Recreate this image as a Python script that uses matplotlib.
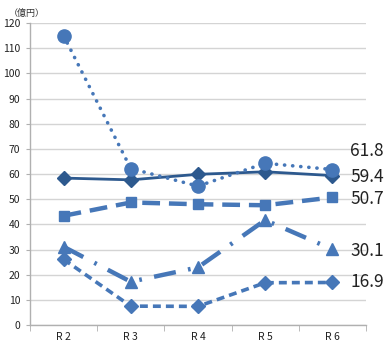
import matplotlib.pyplot as plt
import numpy as np

plt.rcParams['font.family'] = ['Noto Sans CJK JP', 'DejaVu Sans']

# 年度別の金額（億円）
years = ["R 2", "R 3", "R 4", "R 5", "R 6"]
dotted_vals = [115.0, 62.2, 55.2, 64.3, 61.8]
solid_vals = [58.4, 57.7, 59.9, 60.9, 59.4]
square_vals = [43.4, 48.7, 48.0, 47.6, 50.7]
triangle_vals = [31.1, 17.2, 22.9, 41.7, 30.1]
diamond_vals = [26.1, 7.5, 7.4, 16.8, 16.9]

blue = "#4677b8"
dark = "#2d598e"

fig = plt.figure(figsize=(3.92, 3.47), dpi=100)
ax = fig.add_axes([0.0765, 0.0634, 0.857, 0.870])

x = np.arange(len(years))

ax.plot(x, solid_vals, color=dark, lw=2, marker="D", ms=7, zorder=4)
ax.plot(x, square_vals, color=blue, lw=3.2, ls=(0, (4, 2)),
        marker="s", ms=7, zorder=3)
ax.plot(x, triangle_vals, color=blue, lw=3.2,
        ls=(0, (5, 2.8, 0.6, 2.8)), marker="^", ms=8, zorder=3)
ax.plot(x, diamond_vals, color=blue, lw=2.6, ls=(0, (2.2, 1.4)),
        marker="D", ms=7, zorder=3)
ax.plot(x, dotted_vals, color=blue, lw=2.6, ls=(0, (0.05, 2.2)),
        dash_capstyle="round", marker="o", ms=9.5, zorder=5)

# 最終年度の値ラベル
labels = [(dotted_vals, 13), (solid_vals, -1), (square_vals, -1),
          (triangle_vals, -1), (diamond_vals, 0)]
for vals, dy in labels:
    ax.annotate(f"{vals[-1]:.1f}", xy=(x[-1], vals[-1]),
                xytext=(13, dy), textcoords="offset points",
                fontsize=12.5, color="#222222", va="center", ha="left",
                annotation_clip=False, zorder=6)

ax.set_xlim(-0.5, len(years) - 0.5)
ax.set_ylim(0, 120)
ax.set_yticks(np.arange(0, 121, 10))
ax.set_xticks(x)
ax.set_xticklabels(years)
ax.set_xticks(np.arange(-0.5, len(years)), minor=True)

ax.grid(axis="y", color="#d4d4d4", lw=1)
ax.set_axisbelow(True)
for side in ["top", "right"]:
    ax.spines[side].set_visible(False)
for side in ["left", "bottom"]:
    ax.spines[side].set_color("#b0b0b0")
    ax.spines[side].set_linewidth(1)

ax.tick_params(axis="y", length=3, color="#b0b0b0", labelsize=7.5,
               labelcolor="#222222", pad=4)
ax.tick_params(axis="x", which="major", length=0, labelsize=7.5,
               labelcolor="#222222", pad=5)
ax.tick_params(axis="x", which="minor", length=4, color="#b0b0b0")

fig.text(0.022, 0.962, "（億円）", fontsize=6.5, color="#333333",
         va="center", ha="left")

fig.savefig("out.png", dpi=100)
